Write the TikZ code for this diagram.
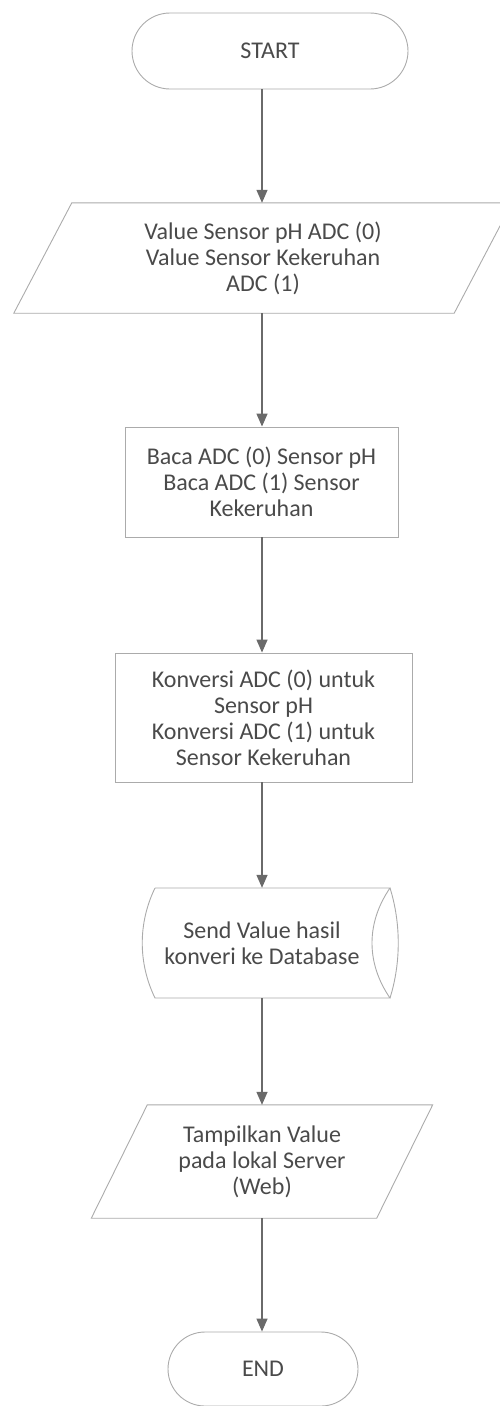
\documentclass[tikz,border=0pt]{standalone}
\usepackage{fontspec}
\setmainfont{Carlito}
\usetikzlibrary{shapes.misc,arrows.meta,calc}
\definecolor{boxline}{HTML}{ABABAB}
\definecolor{arrowc}{HTML}{6A6A6A}
\definecolor{txt}{HTML}{4A4A4A}
\tikzset{
  base/.style={font=\fontsize{24}{26}\selectfont, text=txt, align=center, inner sep=0pt},
  term/.style={base, shape=rounded rectangle, draw=boxline, line width=0.9pt},
  procbox/.style={base, shape=rectangle, draw=boxline, line width=0.9pt},
  outline/.style={draw=boxline, line width=0.9pt},
  arr/.style={draw=arrowc, line width=1.4pt, -{Triangle[width=11pt,length=13pt]}},
}
\begin{document}
\begin{tikzpicture}[x=1pt,y=-1pt]
\useasboundingbox (0,0) rectangle (499,1406);
\coordinate (axis) at (262,0);

\node[term, minimum width=276pt, minimum height=76pt] (start) at (270,51) {START};

\node[base, minimum width=440pt, minimum height=110pt] (in1) at (263,258)
  {Value Sensor pH ADC (0)\\Value Sensor Kekeruhan\\ADC (1)};
\draw[outline] ([xshift=29pt]in1.north west) -- ([xshift=29pt]in1.north east)
  -- ([xshift=-29pt]in1.south east) -- ([xshift=-29pt]in1.south west) -- cycle;

\node[procbox, minimum width=273pt, minimum height=110pt] (read) at (261.5,482)
  {Baca ADC (0) Sensor pH\\Baca ADC (1) Sensor\\Kekeruhan};

\node[procbox, minimum width=297pt, minimum height=129pt] (conv) at (263.5,717.5)
  {Konversi ADC (0) untuk\\Sensor pH\\Konversi ADC (1) untuk\\Sensor Kekeruhan};

\node[base, minimum width=235pt, minimum height=110pt] (send) at (262,943)
  {Send Value hasil\\konveri ke Database};
\draw[outline] ($(send.center)+(-107,-55)$) -- ($(send.center)+(128,-55)$)
  .. controls ($(send.center)+(104,-20)$) and ($(send.center)+(104,20)$) .. ($(send.center)+(128,55)$)
  -- ($(send.center)+(-107,55)$)
  .. controls ($(send.center)+(-124,20)$) and ($(send.center)+(-124,-20)$) .. ($(send.center)+(-107,-55)$);
\draw[outline] ($(send.center)+(128,-55)$)
  .. controls ($(send.center)+(139,-20)$) and ($(send.center)+(139,20)$) .. ($(send.center)+(128,55)$);

\node[base, minimum width=285pt, minimum height=113pt] (show) at (262,1161.5)
  {Tampilkan Value\\pada lokal Server\\(Web)};
\draw[outline] ([xshift=28pt]show.north west) -- ([xshift=28pt]show.north east)
  -- ([xshift=-28pt]show.south east) -- ([xshift=-28pt]show.south west) -- cycle;

\node[term, minimum width=190pt, minimum height=74pt] (end) at (263,1369) {END};

\draw[arr] (start.south -| axis) -- (in1.north -| axis);
\draw[arr] (in1.south -| axis) -- (read.north -| axis);
\draw[arr] (read.south -| axis) -- (conv.north -| axis);
\draw[arr] (conv.south -| axis) -- (send.north -| axis);
\draw[arr] (send.south -| axis) -- (show.north -| axis);
\draw[arr] (show.south -| axis) -- (end.north -| axis);
\end{tikzpicture}
\end{document}
